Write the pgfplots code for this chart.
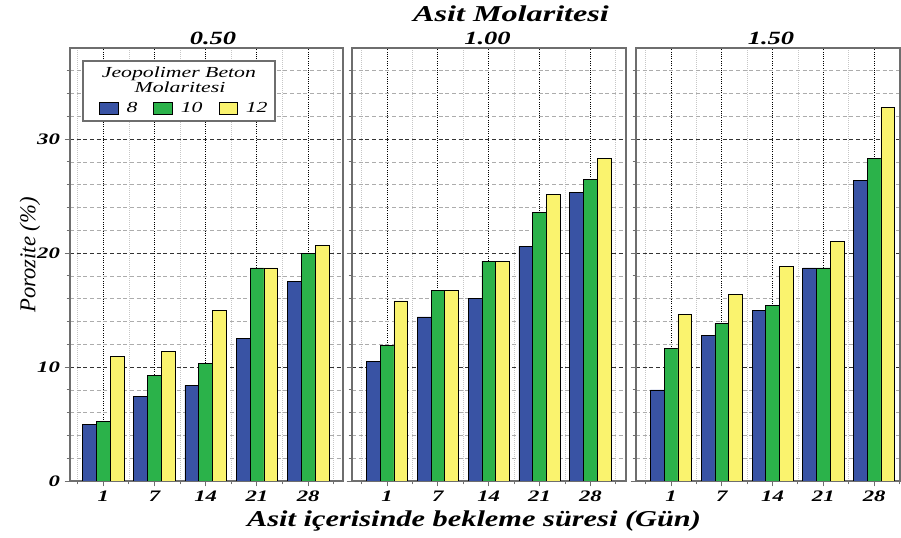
\documentclass[border=0pt]{standalone}
\usepackage{pgfplots}
\pgfplotsset{compat=1.18}
\usepackage{fontspec}
\setmainfont{Liberation Serif}
\definecolor{cB}{RGB}{57,83,164}
\definecolor{cG}{RGB}{43,178,74}
\definecolor{cY}{RGB}{250,243,110}
\definecolor{frame}{RGB}{110,110,110}
\newcommand{\sx}[1]{\scalebox{1.42}[1]{#1}}
\pgfplotsset{
  panel/.style={
    scale only axis, height=324.75pt,
    ymin=0, ymax=38,
    ybar, bar width=0.27,
    xtick={0,1,2,3,4},
    xticklabels={\sx{1},\sx{7},\sx{14},\sx{21},\sx{28}},
    minor xtick={-0.5,0.5,1.5,2.5,3.5,4.5},
    ytick={0,10,20,30},
    minor ytick={2,4,6,8,12,14,16,18,22,24,26,28,32,34,36},
    xmajorgrids, xminorgrids, ymajorgrids, yminorgrids,
    major x grid style={black, line width=0.7pt, densely dotted},
    minor x grid style={gray!45, line width=0.5pt, densely dotted},
    major y grid style={black!80, line width=0.6pt, dash pattern=on 3pt off 2pt},
    minor y grid style={gray!65, line width=0.5pt, dash pattern=on 3pt off 2pt},
    tick align=outside, tick pos=left,
    major tick length=4pt, minor tick length=2.5pt,
    every tick/.style={frame, line width=0.7pt},
    axis line style={frame, line width=1.3pt},
    tick label style={font=\bfseries\itshape\fontsize{12}{13}\selectfont},
    /pgf/number format/assume math mode=true,
  },
  bB/.style={fill=cB, draw=black, line width=0.5pt, bar shift=-0.27,
    legend image code/.code={\draw[fill=cB, draw=black, line width=0.5pt] (0pt,-4.5pt) rectangle (14pt,4.5pt);}},
  bG/.style={fill=cG, draw=black, line width=0.5pt, bar shift=0,
    legend image code/.code={\draw[fill=cG, draw=black, line width=0.5pt] (0pt,-4.5pt) rectangle (14pt,4.5pt);}},
  bY/.style={fill=cY, draw=black, line width=0.5pt, bar shift=0.27,
    legend image code/.code={\draw[fill=cY, draw=black, line width=0.5pt] (0pt,-4.5pt) rectangle (14pt,4.5pt);}},
}
\begin{document}
\begin{tikzpicture}
\useasboundingbox (0,0) rectangle (675.75pt,403.5pt);
% Panel 0.50
\begin{axis}[panel, at={(52.5pt,42.75pt)}, anchor=south west, width=204.75pt,
  xmin=-0.65, xmax=4.68,
  yticklabels={\sx{0},\sx{10},\sx{20},\sx{30}},
  legend columns=3,
  legend style={at={(rel axis cs:0.106,0.861)}, anchor=west, draw=none, fill=none,
    inner sep=0pt, font=\itshape\fontsize{11.5}{13}\selectfont,
    /tikz/every odd column/.append style={column sep=4pt},
    /tikz/every even column/.append style={column sep=10pt}},
]
\draw[frame, line width=1.2pt, fill=white] (rel axis cs:0.0476,0.831) rectangle (rel axis cs:0.751,0.970);
\node[anchor=base, font=\itshape\fontsize{11.5}{13}\selectfont] at (rel axis cs:0.399,0.933) {\sx{Jeopolimer Beton}};
\node[anchor=base, font=\itshape\fontsize{11.5}{13}\selectfont] at (rel axis cs:0.403,0.898) {\sx{Molaritesi}};
\addplot[bB] coordinates {(0,5.0) (1,7.4) (2,8.4) (3,12.5) (4,17.5)};
\addlegendentry{\sx{8}}
\addplot[bG] coordinates {(0,5.2) (1,9.3) (2,10.35) (3,18.7) (4,20.0)};
\addlegendentry{\sx{10}}
\addplot[bY] coordinates {(0,10.9) (1,11.4) (2,15.0) (3,18.7) (4,20.7)};
\addlegendentry{\sx{12}}
\end{axis}
% Panel 1.00
\begin{axis}[panel, at={(264pt,42.75pt)}, anchor=south west, width=205.5pt,
  xmin=-0.69, xmax=4.70, yticklabels={}]
\addplot[bB] coordinates {(0,10.5) (1,14.4) (2,16.0) (3,20.6) (4,25.3)};
\addplot[bG] coordinates {(0,11.9) (1,16.75) (2,19.3) (3,23.6) (4,26.5)};
\addplot[bY] coordinates {(0,15.8) (1,16.75) (2,19.3) (3,25.15) (4,28.3)};
\end{axis}
% Panel 1.50
\begin{axis}[panel, at={(477pt,42.75pt)}, anchor=south west, width=198pt,
  xmin=-0.69, xmax=4.51, yticklabels={}]
\addplot[bB] coordinates {(0,8.0) (1,12.8) (2,15.0) (3,18.7) (4,26.4)};
\addplot[bG] coordinates {(0,11.6) (1,13.8) (2,15.4) (3,18.7) (4,28.3)};
\addplot[bY] coordinates {(0,14.6) (1,16.4) (2,18.8) (3,21.0) (4,32.8)};
\end{axis}
% Titles and labels
\node[anchor=base, font=\bfseries\itshape\fontsize{17}{20}\selectfont] at (383.25pt,387pt) {\sx{Asit Molaritesi}};
\node[anchor=base, font=\bfseries\itshape\fontsize{14}{16}\selectfont] at (159.75pt,369.75pt) {\sx{0.50}};
\node[anchor=base, font=\bfseries\itshape\fontsize{14}{16}\selectfont] at (365.6pt,369.75pt) {\sx{1.00}};
\node[anchor=base, font=\bfseries\itshape\fontsize{14}{16}\selectfont] at (578.25pt,369.75pt) {\sx{1.50}};
\node[anchor=base, font=\bfseries\itshape\fontsize{17}{20}\selectfont] at (355.5pt,8.25pt) {\scalebox{1.34}[1]{Asit içerisinde bekleme süresi (Gün)}};
\node[rotate=90, font=\itshape\fontsize{17}{20}\selectfont] at (22.5pt,212.25pt) {Porozite (\%)};
\end{tikzpicture}
\end{document}
